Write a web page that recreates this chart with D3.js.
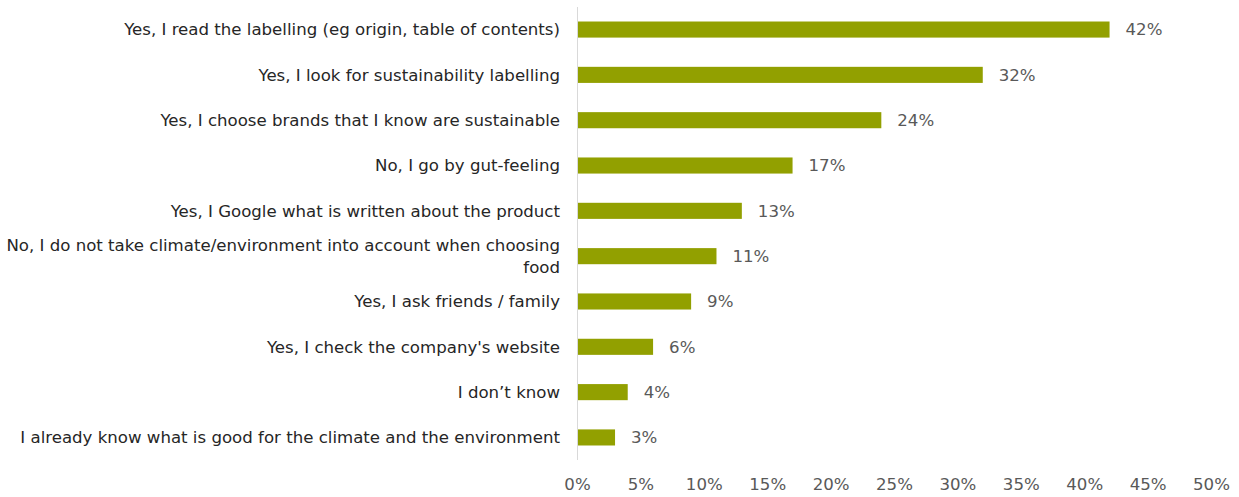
<!DOCTYPE html>
<html>
<head>
<meta charset="utf-8">
<script src="https://cdn.jsdelivr.net/npm/d3@7"></script>
<style>
  html, body { margin: 0; padding: 0; background: #fff; }
  svg { display: block; }
  text { font-family: "DejaVu Sans", Verdana, sans-serif; }
</style>
</head>
<body>
<svg id="chart" width="1239" height="497"></svg>
<script>
const categories = [
  ["Yes, I read the labelling (eg origin, table of contents)"],
  ["Yes, I look for sustainability labelling"],
  ["Yes, I choose brands that I know are sustainable"],
  ["No, I go by gut-feeling"],
  ["Yes, I Google what is written about the product"],
  ["No, I do not take climate/environment into account when choosing", "food"],
  ["Yes, I ask friends / family"],
  ["Yes, I check the company's website"],
  ["I don\u2019t know"],
  ["I already know what is good for the climate and the environment"]
];
const values = [42, 32, 24, 17, 13, 11, 9, 6, 4, 3];
const tickValues = [0, 5, 10, 15, 20, 25, 30, 35, 40, 45, 50];

const svg = d3.select("#chart");
const fontSize = 16.6;
const x = d3.scaleLinear().domain([0, 50]).range([577, 1211]);
const y = d3.scaleBand().domain(d3.range(values.length)).range([7, 460]).paddingInner(0.645).paddingOuter(0.32);

// axis line
svg.append("line")
  .attr("x1", x(0) + 0.5).attr("x2", x(0) + 0.5)
  .attr("y1", 7).attr("y2", 460)
  .attr("stroke", "#d9d9d9").attr("stroke-width", 1);

// bars
svg.selectAll("rect.bar").data(values).enter().append("rect")
  .attr("class", "bar")
  .attr("x", x(0) + 1)
  .attr("y", (d, i) => y(i))
  .attr("width", d => x(d) - x(0) - 1)
  .attr("height", y.bandwidth())
  .attr("fill", "#92a000");

// value labels
svg.selectAll("text.val").data(values).enter().append("text")
  .attr("class", "val")
  .attr("x", d => x(d) + 16)
  .attr("y", (d, i) => y(i) + y.bandwidth() / 2)
  .attr("dy", "0.35em")
  .attr("font-size", fontSize)
  .attr("fill", "#595959")
  .text(d => d + "%");

// category labels
const lab = svg.selectAll("text.cat").data(categories).enter().append("text")
  .attr("class", "cat")
  .attr("text-anchor", "end")
  .attr("font-size", fontSize)
  .attr("fill", "#262626")
  .attr("y", (d, i) => y(i) + y.bandwidth() / 2 - (d.length - 1) * 11);
lab.each(function(d) {
  const t = d3.select(this);
  d.forEach((line, j) => {
    t.append("tspan").attr("x", 560).attr("dy", j === 0 ? "0.35em" : 22).text(line);
  });
});

// x axis tick labels
const xAxis = d3.axisBottom(x).tickValues(tickValues).tickFormat(d => d + "%").tickSize(0).tickPadding(0);
const gx = svg.append("g").attr("transform", "translate(0,478)").call(xAxis);
gx.select(".domain").remove();
gx.selectAll("text")
  .attr("font-size", fontSize)
  .attr("font-family", "\"DejaVu Sans\", Verdana, sans-serif")
  .attr("fill", "#595959");
</script>
</body>
</html>
